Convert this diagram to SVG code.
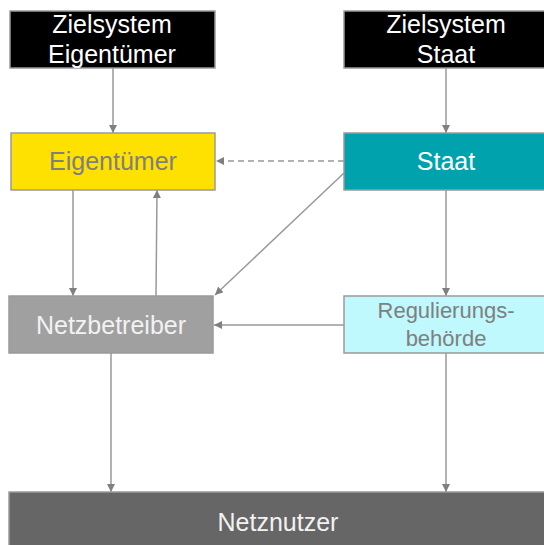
<svg xmlns="http://www.w3.org/2000/svg" width="544" height="545" viewBox="0 0 544 545">
<defs>
<style>
text{font-family:"Liberation Sans",Arial,sans-serif;text-anchor:middle}
.box{stroke:#9a9a9a;stroke-width:1.5}
.t{font-size:25px}
.s{font-size:22px}
.c{fill:none;stroke:#999;stroke-width:1.5}
</style>
<marker id="ah" viewBox="0 0 10 10" refX="10" refY="5" markerWidth="8" markerHeight="8" markerUnits="userSpaceOnUse" orient="auto">
<path d="M0,0 L10,5 L0,10 z" fill="#808080"/>
</marker>
</defs>
<rect width="544" height="545" fill="#fff"/>
<g id="connectors">
<line class="c" x1="113" y1="68" x2="113" y2="133" marker-end="url(#ah)"/>
<line class="c" x1="446" y1="68" x2="446" y2="133" marker-end="url(#ah)"/>
<line class="c" x1="344" y1="161" x2="216" y2="161" stroke-dasharray="6,4" marker-end="url(#ah)"/>
<line class="c" x1="73" y1="190" x2="73" y2="296" marker-end="url(#ah)"/>
<line class="c" x1="156" y1="296" x2="157" y2="190" marker-end="url(#ah)"/>
<line class="c" x1="344" y1="173" x2="215" y2="295" marker-end="url(#ah)"/>
<line class="c" x1="446" y1="190" x2="446" y2="296" marker-end="url(#ah)"/>
<line class="c" x1="344" y1="325" x2="214" y2="325" marker-end="url(#ah)"/>
<line class="c" x1="111" y1="353" x2="111" y2="492" marker-end="url(#ah)"/>
<line class="c" x1="446" y1="353" x2="446" y2="492" marker-end="url(#ah)"/>
</g>
<g id="ziel-eigentuemer">
<rect class="box" x="10" y="11" width="205" height="57" fill="#000"/>
<text class="t" x="112" y="33" fill="#fff">Zielsystem</text>
<text class="t" x="112" y="63" fill="#fff">Eigentümer</text>
</g>
<g id="ziel-staat">
<rect class="box" x="344" y="11" width="205" height="57" fill="#000"/>
<text class="t" x="446" y="33" fill="#fff">Zielsystem</text>
<text class="t" x="446" y="63" fill="#fff">Staat</text>
</g>
<g id="eigentuemer">
<rect class="box" x="11" y="133" width="204" height="57" fill="#ffe100"/>
<text class="t" x="113" y="170" fill="#7f7f7f">Eigentümer</text>
</g>
<g id="staat">
<rect class="box" x="344" y="133" width="205" height="57" fill="#00a3ad"/>
<text class="t" x="446" y="170" fill="#fff">Staat</text>
</g>
<g id="netzbetreiber">
<rect class="box" x="9" y="296" width="204" height="57" fill="#a0a0a0"/>
<text class="t" x="111" y="334" fill="#f2f2f2">Netzbetreiber</text>
</g>
<g id="regulierungsbehoerde">
<rect class="box" x="344" y="296" width="205" height="57" fill="#bff8fd"/>
<text class="s" x="446" y="318" fill="#7f7f7f">Regulierungs-</text>
<text class="s" x="446" y="346" fill="#7f7f7f">behörde</text>
</g>
<g id="netznutzer">
<rect class="box" x="9" y="492" width="545" height="60" fill="#666"/>
<text class="t" x="278" y="531" fill="#f2f2f2">Netznutzer</text>
</g>
</svg>
